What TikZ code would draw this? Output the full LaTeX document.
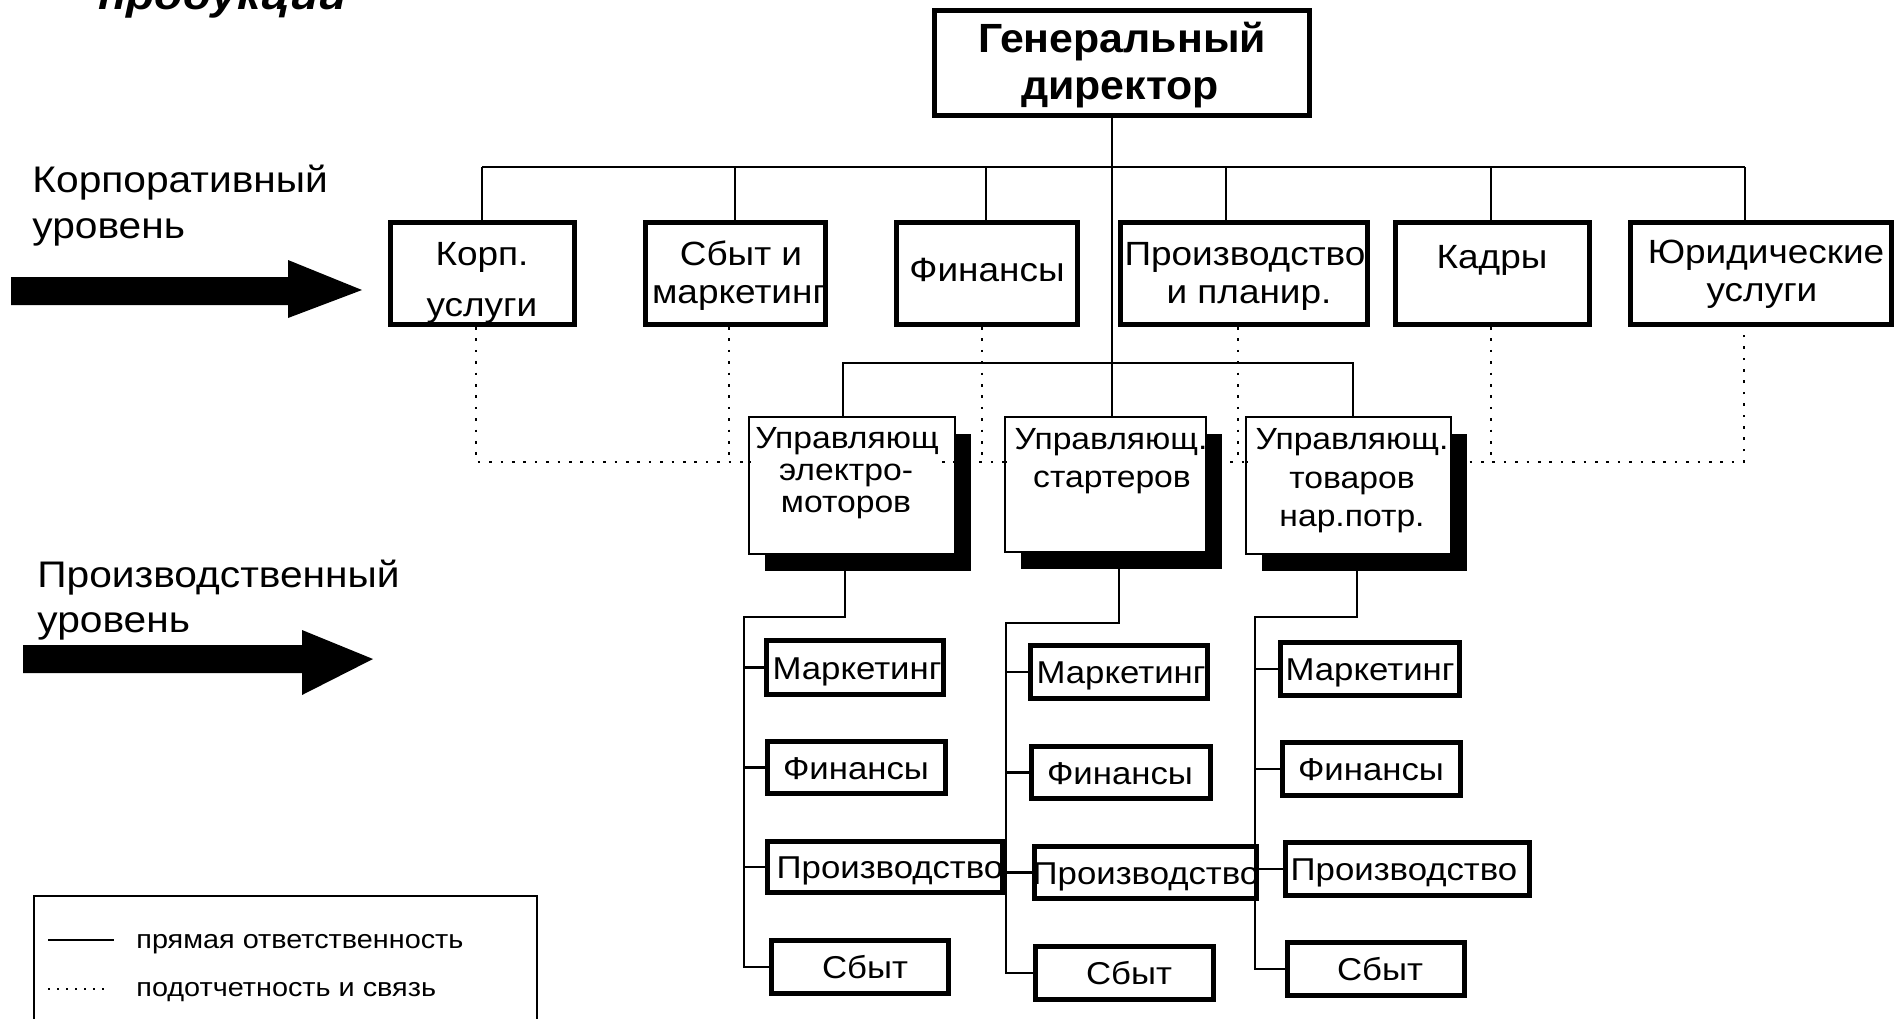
\documentclass[tikz,border=0pt]{standalone}
\usepackage{fontspec}
\setmainfont{Liberation Sans}[FakeStretch=1.1]
\newfontfamily\dirfamily{Liberation Sans}[FakeStretch=1.05]
\usetikzlibrary{calc,shadows}
\newcommand\fDir{\dirfamily\fontsize{20.4}{20}\selectfont\bfseries}
\newcommand\fCorp{\fontsize{16.8}{19}\selectfont}
\newcommand\fLvl{\fontsize{18.5}{20}\selectfont}
\newcommand\fMgr{\fontsize{15.3}{17}\selectfont}
\newcommand\fSub{\fontsize{15.8}{17}\selectfont}
\newcommand\fLeg{\fontsize{13.1}{15}\selectfont}
\newcommand\fTop{\fontsize{21}{22}\selectfont\bfseries\itshape}
\begin{document}
\begin{tikzpicture}[x=0.5pt,y=-0.5pt,
  box/.style 2 args={minimum width=#1*0.5pt,minimum height=#2*0.5pt},
  conn/.style={line width=1.1pt},
  dotc/.style={line width=1.3pt,dash pattern=on 1.3pt off 4.4pt},
  dirbox/.style={draw,line width=2.6pt,inner sep=0pt},
  corpbox/.style={draw,line width=2.5pt,inner sep=0pt},
  mgrbox/.style={draw,fill=white,line width=1pt,inner sep=0pt,
     drop shadow={shadow xshift=8pt,shadow yshift=-8.5pt,opacity=1,fill=black}},
  subbox/.style={draw,line width=2.3pt,inner sep=0pt},
  txt/.style={anchor=base,inner sep=0pt},
  ltxt/.style={anchor=base west,inner sep=0pt}]
\useasboundingbox (0,0) rectangle (1899,1018);
\clip (0,0) rectangle (1899,1018);

% cut-off title fragment (the reference shows only its lower part)
\node[ltxt,font=\fTop] (ttl) at (98,9) {продукции};

% level labels and arrows
\node[ltxt,font=\fLvl] (l1a) at (32,192) {Корпоративный};
\node[ltxt,font=\fLvl] (l1b) at (32,238) {уровень};
\node[ltxt,font=\fLvl] (l2a) at (37,587) {Производственный};
\node[ltxt,font=\fLvl] (l2b) at (37,632) {уровень};
\fill (11,277) -- (288,277) -- (288,260) -- (362,290) -- (288,318) -- (288,305) -- (11,305) -- cycle;
\fill (23,645) -- (302,645) -- (302,630) -- (373,659) -- (302,695) -- (302,673) -- (23,673) -- cycle;

% director
\node[dirbox,box={375}{105}] (dir) at (1122,63) {};
\node[txt,font=\fDir] (dirt1) at (1122,52) {Генеральный};
\node[txt,font=\fDir] (dirt2) at (1120,99) {директор};

% corporate boxes
\node[corpbox,box={184}{102}] (k1) at (482.5,273.5) {};
\node[corpbox,box={180}{102}] (k2) at (735.5,273.5) {};
\node[corpbox,box={181}{102}] (k3) at (987,273.5) {};
\node[corpbox,box={247}{102}] (k4) at (1244,273.5) {};
\node[corpbox,box={194}{102}] (k5) at (1492.5,273.5) {};
\node[corpbox,box={261}{102}] (k6) at (1761,273.5) {};
\node[txt,font=\fCorp] (k1a) at (482,265) {Корп.};
\node[txt,font=\fCorp] (k1b) at (482,316) {услуги};
\node[txt,font=\fCorp] (k2a) at (741,265) {Сбыт и};
\node[txt,font=\fCorp] (k2b) at (739,303) {маркетинг};
\node[txt,font=\fCorp] (k3a) at (987,281) {Финансы};
\node[txt,font=\fCorp] (k4a) at (1245,265) {Производство};
\node[txt,font=\fCorp] (k4b) at (1249,303) {и планир.};
\node[txt,font=\fCorp] (k5a) at (1492,268) {Кадры};
\node[txt,font=\fCorp] (k6a) at (1766,263) {Юридические};
\node[txt,font=\fCorp] (k6b) at (1762,301) {услуги};

% dotted reporting lines
\coordinate (d1) at (476,462);
\coordinate (d2) at (729,462);
\coordinate (d3) at (982,462);
\coordinate (d4) at (1238,462);
\coordinate (d5) at (1491,462);
\coordinate (d6) at (1744,462);
\draw[dotc] (d1 |- k1.south) -- (d1) -- (d6) -- (d6 |- k6.south);
\draw[dotc] (d2 |- k2.south) -- (d2);
\draw[dotc] (d3 |- k3.south) -- (d3);
\draw[dotc] (d4 |- k4.south) -- (d4);
\draw[dotc] (d5 |- k5.south) -- (d5);

% managers
\node[mgrbox,box={206}{137}] (m1) at (852,485.5) {};
\node[mgrbox,box={201}{135}] (m2) at (1105.5,484.5) {};
\node[mgrbox,box={205}{137}] (m3) at (1348.5,485.5) {};
% bits of the dotted line visible just inside the manager frames
\draw[dotc] (m1.west |- d1) -- ++(9,0);
\draw[dotc] ($(m1.east |- d1)+(-14,0)$) -- (m1.east |- d1);
\draw[dotc] (m2.west |- d1) -- ++(5,0);
\draw[dotc] (m3.west |- d1) -- ++(10,0);
\node[txt,font=\fMgr] (m1a) at (847,448) {Управляющ};
\node[txt,font=\fMgr] (m1b) at (846,480) {электро-};
\node[txt,font=\fMgr] (m1c) at (846,512) {моторов};
\node[txt,font=\fMgr] (m2a) at (1111,449) {Управляющ.};
\node[txt,font=\fMgr] (m2b) at (1112,487) {стартеров};
\node[txt,font=\fMgr] (m3a) at (1352,449) {Управляющ.};
\node[txt,font=\fMgr] (m3b) at (1352,488) {товаров};
\node[txt,font=\fMgr] (m3c) at (1352,526) {нар.потр.};

% corporate connectors
\coordinate (v1) at (482,167);
\coordinate (v2) at (735,167);
\coordinate (v3) at (986,167);
\coordinate (v4) at (1226,167);
\coordinate (v5) at (1491,167);
\coordinate (v6) at (1745,167);
\coordinate (cv) at (1112,167);
\draw[conn] (v1) -- (v6);
\foreach \i in {1,...,6} {\draw[conn] (v\i) -- (v\i |- k\i.north);}
\draw[conn] (cv |- dir.south) -- (cv |- m2.north);
\coordinate (mb1) at (843,363);
\coordinate (mb3) at (1353,363);
\draw[conn] (mb1 |- m1.north) -- (mb1) -- (mb3) -- (mb3 |- m3.north);

% production units
\node[subbox,box={177}{54}] (mk1) at (855,667.5) {};
\node[subbox,box={178}{52}] (fi1) at (856.5,767.5) {};
\node[subbox,box={235}{51}] (pr1) at (885,867) {};
\node[subbox,box={177}{53}] (sb1) at (860,967) {};
\node[subbox,box={177}{53}] (mk2) at (1119,672) {};
\node[subbox,box={179}{52}] (fi2) at (1121,772.5) {};
\node[subbox,box={222}{52}] (pr2) at (1145.5,872.5) {};
\node[subbox,box={178}{53}] (sb2) at (1124.5,973) {};
\node[subbox,box={179}{53}] (mk3) at (1370,669) {};
\node[subbox,box={178}{53}] (fi3) at (1371.5,769) {};
\node[subbox,box={244}{53}] (pr3) at (1407.5,869) {};
\node[subbox,box={177}{53}] (sb3) at (1376,969) {};
\node[txt,font=\fSub] (mk1t) at (857,679) {Маркетинг};
\node[txt,font=\fSub] (fi1t) at (856,779) {Финансы};
\node[txt,font=\fSub] (pr1t) at (890,878) {Производство};
\node[txt,font=\fSub] (sb1t) at (865,978) {Сбыт};
\node[txt,font=\fSub] (mk2t) at (1121,683) {Маркетинг};
\node[txt,font=\fSub] (fi2t) at (1120,784) {Финансы};
\node[txt,font=\fSub] (pr2t) at (1146,884) {Производство};
\node[txt,font=\fSub] (sb2t) at (1129,984) {Сбыт};
\node[txt,font=\fSub] (mk3t) at (1370,680) {Маркетинг};
\node[txt,font=\fSub] (fi3t) at (1371,780) {Финансы};
\node[txt,font=\fSub] (pr3t) at (1404,880) {Производство};
\node[txt,font=\fSub] (sb3t) at (1380,980) {Сбыт};

% column buses
\coordinate (c1t) at (845,617);
\coordinate (c1b) at (744,617);
\coordinate (c2t) at (1119,623);
\coordinate (c2b) at (1006,623);
\coordinate (c3t) at (1357,617);
\coordinate (c3b) at (1255,617);
\draw[conn] (c1t |- m1.south) -- (c1t) -- (c1b) -- (c1b |- sb1.west) -- (sb1.west);
\draw[conn] (c2t |- m2.south) -- (c2t) -- (c2b) -- (c2b |- sb2.west) -- (sb2.west);
\draw[conn] (c3t |- m3.south) -- (c3t) -- (c3b) -- (c3b |- sb3.west) -- (sb3.west);
\foreach \c in {1,2,3} {
  \draw[conn] (c\c b |- mk\c.west) -- (mk\c.west);
  \draw[conn] (c\c b |- fi\c.west) -- (fi\c.west);
  \draw[conn] (c\c b |- pr\c.west) -- (pr\c.west);
}

% legend
\node[draw,line width=1pt,inner sep=0pt,anchor=north west,box={503}{140}] (leg) at (33,895) {};
\coordinate (ls1) at (48,940);
\coordinate (ls2) at (114,940);
\coordinate (ld1) at (48,989);
\coordinate (ld2) at (104,989);
\draw[line width=1.2pt] (ls1) -- (ls2);
\draw[line width=1.1pt,dash pattern=on 1.1pt off 3.4pt] (ld1) -- (ld2);
\node[ltxt,font=\fLeg] (lg1) at (136,948) {прямая ответственность};
\node[ltxt,font=\fLeg] (lg2) at (136,996) {подотчетность и связь};
\end{tikzpicture}
\end{document}
